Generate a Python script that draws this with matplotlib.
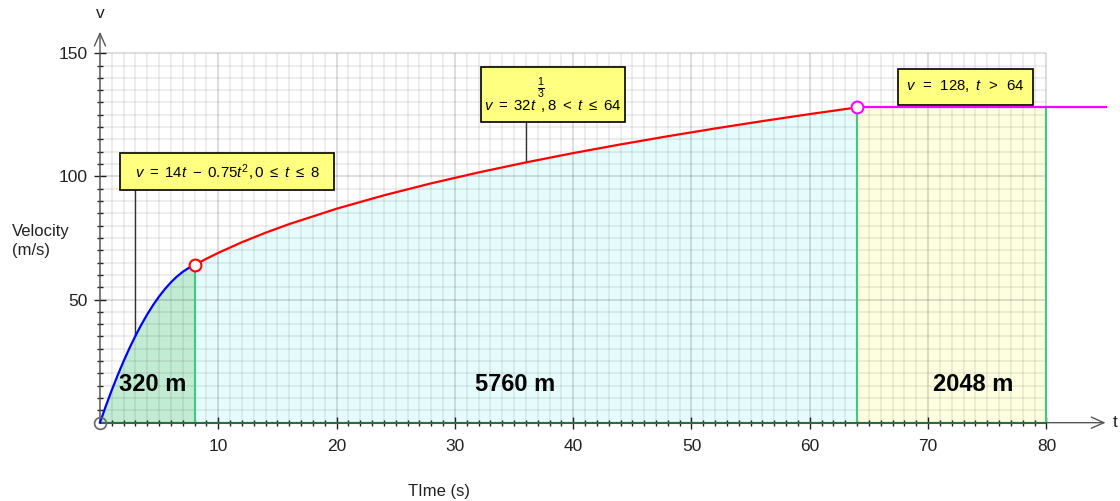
import matplotlib
matplotlib.use("Agg")
import matplotlib.pyplot as plt
from matplotlib.patches import Rectangle

plt.rcParams["font.family"] = ["Liberation Sans", "DejaVu Sans"]
plt.rcParams["mathtext.fontset"] = "custom"
plt.rcParams["mathtext.rm"] = "Liberation Sans"
plt.rcParams["mathtext.it"] = "Liberation Sans:italic"
plt.rcParams["mathtext.bf"] = "Liberation Sans:bold"

# velocity, three pieces
t1 = [0, 0.5, 1, 1.5, 2, 2.5, 3, 3.5, 4, 4.5, 5, 5.5, 6, 6.5, 7, 7.5, 8]
v1 = [0, 6.81, 13.25, 19.31, 25, 30.31, 35.25, 39.81, 44, 47.81, 51.25,
      54.31, 57, 59.31, 61.25, 62.81, 64]
t2 = [8, 9, 10, 12, 14, 16, 20, 24, 28, 32, 36, 40, 44, 48, 52, 56, 60, 64]
v2 = [64, 66.56, 68.94, 73.26, 77.12, 80.63, 86.86, 92.30, 97.17, 101.59,
      105.66, 109.44, 112.97, 116.29, 119.44, 122.43, 125.28, 128]
t3 = [64, 85]
v3 = [128, 128]
t_stop = 80
areas = ["320 m", "5760 m", "2048 m"]
formulas = [r"$v\ =\ 14t\ -\ 0.75t^{2}, 0\ \leq\ t\ \leq\ 8$",
            r"$v\ =\ 32t\ \,, 8\ <\ t\ \leq\ 64$",
            r"$v\ \,=\ \,128,\ t\ \,>\ \,64$"]
exponent = r"$\frac{1}{3}$"
xticks = [10, 20, 30, 40, 50, 60, 70, 80]
yticks = [50, 100, 150]

fig = plt.figure(figsize=(11.2, 5.01), dpi=100)
ax = fig.add_axes([0, 0, 1, 1])
ax.set_xlim(-8.45, 86.22)
ax.set_ylim(-31.8, 171.6)

# shaded areas
ax.fill_between(t1, v1, color="#c2ebd4", lw=0, zorder=1)
ax.fill_between(t2, v2, color="#e6fcfc", lw=0, zorder=1)
ax.fill_between([t3[0], t_stop], [v3[0], v3[0]], color="#fdfde0", lw=0, zorder=1)

# grid
minor_x = [x for x in range(0, 81) if x % 10]
major_x = list(range(0, 81, 10))
minor_y = [y for y in range(0, 151, 5) if y % 50]
major_y = list(range(0, 151, 50))
ax.vlines(minor_x, 0, 150, colors=(0, 0, 0, 0.085), lw=1.1, zorder=2)
ax.hlines(minor_y, 0, 80, colors=(0, 0, 0, 0.085), lw=1.1, zorder=2)
ax.vlines(major_x, 0, 150, colors=(0, 0, 0, 0.17), lw=1.1, zorder=2)
ax.hlines(major_y, 0, 80, colors=(0, 0, 0, 0.17), lw=1.1, zorder=2)

# green edges of the areas
ax.vlines([t1[-1], t2[-1], t_stop], 0, [v1[-1], v2[-1], v3[0]], colors="#3ccb7c", lw=1.5, zorder=3)
ax.hlines(0, 0, t_stop, colors="#2d6b40", lw=1.5, zorder=4)

# axes with arrows
for s in ax.spines.values():
    s.set_visible(False)
ax.spines["left"].set_position(("data", 0))
ax.spines["bottom"].set_position(("data", 0))
ax.annotate("", xy=(85.0, 0), xytext=(0, 0),
            arrowprops=dict(arrowstyle="->,head_length=0.45,head_width=0.2",
                            color="#555555", lw=1, mutation_scale=20, shrinkA=0, shrinkB=0), zorder=3)
ax.annotate("", xy=(0, 158.7), xytext=(0, 0),
            arrowprops=dict(arrowstyle="->,head_length=0.45,head_width=0.2",
                            color="#555555", lw=1, mutation_scale=20, shrinkA=0, shrinkB=0), zorder=3)
ax.set_xticks(xticks)
ax.set_xticks(minor_x, minor=True)
ax.set_yticks(yticks)
ax.set_yticks([y for y in range(5, 151, 5) if y % 50], minor=True)
ax.tick_params(which="major", direction="inout", length=8, width=1, color="#222222",
               labelsize=12.5, labelcolor="#222222")
ax.tick_params(which="minor", direction="inout", length=4.5, width=1, color="#222222")
ax.tick_params(axis="x", which="major", pad=8)
ax.tick_params(axis="y", which="major", pad=5)
ax.text(85.6, 0, "t", fontsize=12.5, ha="left", va="center", color="#222222")
ax.text(0, 166, "v", fontsize=12.5, ha="center", va="center", color="#222222")

# curves
ax.plot(t1, v1, color="#0000ff", lw=1.6, zorder=5)
ax.plot(t2, v2, color="#ff0000", lw=1.6, zorder=5)
ax.plot(t3, v3, color="#ff00ff", lw=1.6, zorder=5)
ax.plot([t1[-1]], [v1[-1]], "o", ms=8.5, mfc="white", mec="#ff0000", mew=1.5, zorder=6)
ax.plot([t2[-1]], [v2[-1]], "o", ms=8.5, mfc="white", mec="#ff00ff", mew=1.5, zorder=6)
ax.plot([t1[0]], [v1[0]], "o", ms=8.5, mfc="none", mec="#666666", mew=1.2, zorder=6)

# formula boxes (x0, x1, y0, y1 in axis units)
boxes = [(1.69, 19.78, 94.4, 109.4), (32.21, 44.38, 122.1, 144.4), (67.46, 78.87, 129.0, 143.6)]
for x0, x1, y0, y1 in boxes:
    ax.add_patch(Rectangle((x0, y0), x1 - x0, y1 - y0, fc="#ffff80", ec="black", lw=1.2, zorder=7))
ax.plot([t1[6], t1[6]], [v1[6], 94.4], color="#333333", lw=1, zorder=4)
ax.plot([t2[10], t2[10]], [v2[10], 122.1], color="#333333", lw=1, zorder=4)
ax.text(10.74, 101.4, formulas[0], fontsize=10.8, ha="center", va="center", zorder=8)
ax.text(38.3, 128.4, formulas[1], fontsize=10.8, ha="center", va="center", zorder=8)
ax.text(37.3, 135.8, exponent, fontsize=11, ha="center", va="center", zorder=8)
ax.text(73.1, 136.5, formulas[2], fontsize=10.8, ha="center", va="center", zorder=8)

# distances
for x, s in zip([4.48, 35.1, 73.8], areas):
    ax.text(x, 15.3, s, fontsize=17, fontweight="bold", ha="center", va="center", zorder=7)

ax.text(-7.44, 73.8, "Velocity\n(m/s)", fontsize=12, ha="left", va="center", linespacing=1.3, color="#222222")
ax.text(28.66, -27.8, "TIme (s)", fontsize=12, ha="center", va="center", color="#222222")

fig.savefig("out.png", dpi=100)
